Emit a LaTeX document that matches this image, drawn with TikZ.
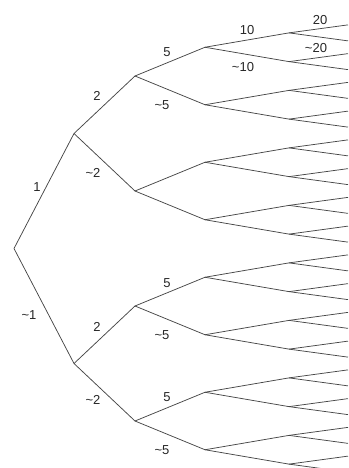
\documentclass[tikz,border=0pt]{standalone}
\usepackage{fontspec}
\setmainfont{Liberation Sans}
\begin{document}
\begin{tikzpicture}[x=1pt,y=-1pt,
  edge/.style={draw=black!72,line width=0.75pt},
  lbl/.style={inner sep=0pt,text=black!85,font=\fontsize{13}{15}\selectfont}]
\useasboundingbox (0,0) rectangle (348,468);
\def\cy{248.5}
\coordinate (r) at (14,\cy);
\foreach \i in {0,1}{
  \coordinate (n\i) at (74,{\cy+(2*\i-1)*115});
  \draw[edge] (r) -- (n\i);
  \foreach \j in {0,1}{
    \coordinate (n\i\j) at (135,{\cy+(2*\i-1)*115+(2*\j-1)*57.5});
    \draw[edge] (n\i) -- (n\i\j);
    \foreach \k in {0,1}{
      \coordinate (n\i\j\k) at (205,{\cy+(2*\i-1)*115+(2*\j-1)*57.5+(2*\k-1)*28.75});
      \draw[edge] (n\i\j) -- (n\i\j\k);
      \foreach \l in {0,1}{
        \coordinate (n\i\j\k\l) at (289,{\cy+(2*\i-1)*115+(2*\j-1)*57.5+(2*\k-1)*28.75+(2*\l-1)*14.375});
        \draw[edge] (n\i\j\k) -- (n\i\j\k\l);
        \foreach \m in {0,1}{
          \coordinate (n\i\j\k\l\m) at (348,{\cy+(2*\i-1)*115+(2*\j-1)*57.5+(2*\k-1)*28.75+(2*\l-1)*14.375+(2*\m-1)*8});
          \draw[edge] (n\i\j\k\l) -- (n\i\j\k\l\m);
        }
      }
    }
  }
}
% labels
\node[lbl] (t1) at (37,187) {1};
\node[lbl] (t2) at (29,315) {\textasciitilde1};
\node[lbl] (t3) at (97,96) {2};
\node[lbl] (t4) at (93,173) {\textasciitilde2};
\node[lbl] (t5) at (97,327) {2};
\node[lbl] (t6) at (93,400) {\textasciitilde2};
\node[lbl] (t7) at (167,52) {5};
\node[lbl] (t8) at (162,105) {\textasciitilde5};
\node[lbl] (t9) at (167,283) {5};
\node[lbl] (t10) at (162,335) {\textasciitilde5};
\node[lbl] (t11) at (167,397) {5};
\node[lbl] (t12) at (162,450) {\textasciitilde5};
\node[lbl] (t13) at (247,30) {10};
\node[lbl] (t14) at (243,67) {\textasciitilde10};
\node[lbl] (t15) at (320,20) {20};
\node[lbl] (t16) at (316,48) {\textasciitilde20};
\end{tikzpicture}
\end{document}
